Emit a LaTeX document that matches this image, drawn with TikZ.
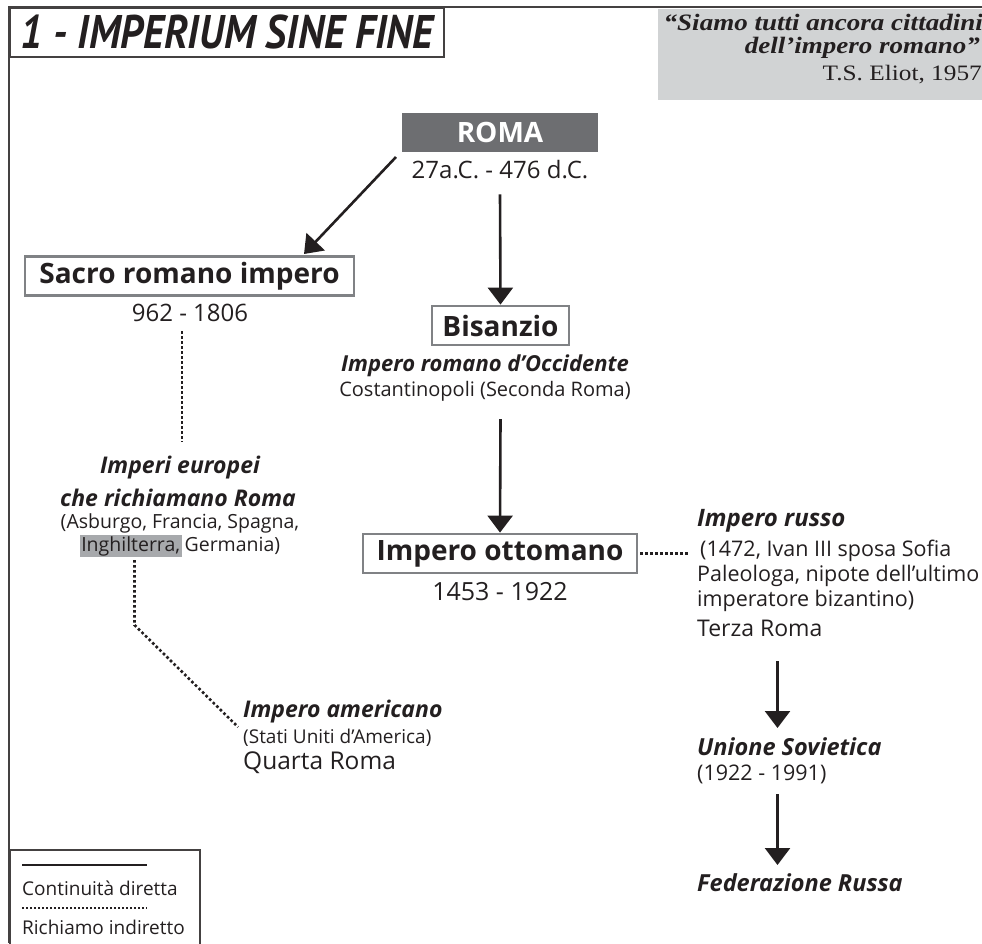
\documentclass[tikz,border=0pt]{standalone}
\usepackage{fontspec}
\setmainfont{Open Sans}
\newfontfamily\titlefont{PT Sans}
\newfontfamily\qfont[FakeStretch=1.15]{Liberation Serif}
\usetikzlibrary{arrows.meta}
\definecolor{ink}{HTML}{231F20}
\definecolor{romafill}{HTML}{6D6E71}
\definecolor{boxgray}{HTML}{808285}
\definecolor{quotebg}{HTML}{D1D3D4}
\definecolor{hl}{HTML}{A7A9AC}
\tikzset{
  fs/.style={font=\fontsize{#1}{#1}\selectfont},
  bfs/.style={font=\bfseries\fontsize{#1}{#1}\selectfont},
  bis/.style={font=\bfseries\itshape\fontsize{#1}{#1}\selectfont},
  ebox/.style={draw=boxgray, line width=2.8pt, minimum height=39pt, inner sep=0pt, font=\bfseries\fontsize{28}{28}\selectfont},
  arr/.style={draw=ink, line width=2.6pt, -{Triangle[width=25pt,length=17pt]}},
  dots/.style={draw=ink, line width=2.6pt, dash pattern=on 2.6pt off 2.4pt},
  frameline/.style={draw=ink!85, line width=1.8pt},
}
\begin{document}
\begin{tikzpicture}[x=1pt,y=-1pt, every node/.append style={text=ink, inner sep=0pt}]
\useasboundingbox (0,0) rectangle (982,943);
% frame
\draw[frameline] (9,943) -- (9,7) -- (982,7);
\node[frameline, draw, minimum width=434pt, minimum height=49pt, anchor=north west, font=\titlefont\bfseries\itshape\fontsize{41}{41}\selectfont] (title) at (9,7) {\scalebox{1}[1.15]{1 - IMPERIUM SINE FINE}};
% quote
\node[fill=quotebg, minimum width=324pt, minimum height=91pt, anchor=north west] (qbg) at (658,9) {};
\node[anchor=east, font=\qfont\bfseries\itshape\fontsize{23.5}{23.5}\selectfont] (q1) at (983,22) {“Siamo tutti ancora cittadini};
\node[anchor=east, font=\qfont\bfseries\itshape\fontsize{23.5}{23.5}\selectfont] (q2) at (980,48) {dell’impero romano”};
\node[anchor=east, font=\qfont\fontsize{22}{22}\selectfont] (q3) at (982,75) {T.S. Eliot, 1957};
% Roma
\node[fill=romafill, minimum width=196pt, minimum height=39pt, text=white, bfs=28] (roma) at (500,132.5) {ROMA};
\node[fs=24] (romadate) at (500,170) {27a.C. - 476 d.C.};
% Sacro romano impero
\node[ebox, minimum width=329pt] (sacro) at (189.5,276) {Sacro romano impero};
\node[fs=24] (sacrodate) at (190,313) {962 - 1806};
% Bisanzio
\node[ebox, minimum width=137pt] (bisanzio) at (500.5,325.5) {Bisanzio};
\node[bis=22] (bis1) at (485,366) {Impero romano d’Occidente};
\node[fs=20] (bis2) at (485,391) {Costantinopoli (Seconda Roma)};
% Ottomano
\node[ebox, minimum width=274pt] (ottomano) at (500,553.5) {Impero ottomano};
\node[fs=25] (ottodate) at (500,592) {1453 - 1922};
% Imperi europei
\node[bis=23] (eur1) at (180,468) {Imperi europei};
\node[bis=23] (eur2) at (178,498) {che richiamano Roma};
\node[fs=19.5] (eur3) at (180,523) {(Asburgo, Francia, Spagna,};
\node[fs=19.5] (eur4) at (180,546) {{\setlength\fboxsep{1.5pt}\colorbox{hl}{Inghilterra,}}\hspace{3pt}Germania)};
% Impero americano
\node[bis=23, anchor=west] (am1) at (243,712) {Impero americano};
\node[fs=19, anchor=west] (am2) at (243,738) {(Stati Uniti d’America)};
\node[fs=24.5, anchor=west] (am3) at (243,763) {Quarta Roma};
% Russia
\node[bis=24, anchor=west] (ru1) at (697,521) {Impero russo};
\node[fs=21.5, anchor=west] (ru2) at (700,551) {(1472, Ivan III sposa Sofia};
\node[fs=21.5, anchor=west] (ru3) at (697,576) {Paleologa, nipote dell’ultimo};
\node[fs=21.5, anchor=west] (ru4) at (697,601) {imperatore bizantino)};
\node[fs=23, anchor=west] (ru5) at (697,628) {Terza Roma};
\node[bis=23.5, anchor=west] (us1) at (697,747) {Unione Sovietica};
\node[fs=21.5, anchor=west] (us2) at (697,774) {(1922 - 1991)};
\node[bis=23.5, anchor=west] (fed) at (697,883) {Federazione Russa};
% connectors
\coordinate (a1s) at (396,157);
\coordinate (a1e) at (304,254);
\draw[arr] (a1s) -- (a1e);
\draw[arr] (romadate.south) ++(0,15) -- (bisanzio.north);
\draw[arr] (bis2.south -| bisanzio.south) ++(0,18) -- (ottomano.north);
\coordinate (r1) at (777.5,661);
\coordinate (r2) at (777.5,728);
\coordinate (r3) at (777.5,794);
\coordinate (r4) at (777.5,865);
\draw[arr] (r1) -- (r2);
\draw[arr] (r3) -- (r4);
\draw[dots] (ottomano.east) ++(2,0) -- (690,553.5);
\draw[dots] (182,331) -- (182,442);
\coordinate (d1) at (134.5,560);
\coordinate (d2) at (134.5,625);
\coordinate (d3) at (238,727);
\draw[dots] (d1) -- (d2) -- (d3);
% legend
\node[frameline, draw, minimum width=190pt, minimum height=100pt, anchor=north west] (legend) at (9,849) {};
\coordinate (l1) at (22,865);
\coordinate (l2) at (147,865);
\draw[draw=ink, line width=2.4pt] (l1) -- (l2);
\node[fs=19, anchor=west] (leg1) at (22,888) {Continuità diretta};
\coordinate (l3) at (22,908);
\coordinate (l4) at (147,908);
\draw[draw=ink, line width=2pt, dash pattern=on 2pt off 2pt] (l3) -- (l4);
\node[fs=19, anchor=west] (leg2) at (22,927) {Richiamo indiretto};
\end{tikzpicture}
\end{document}
